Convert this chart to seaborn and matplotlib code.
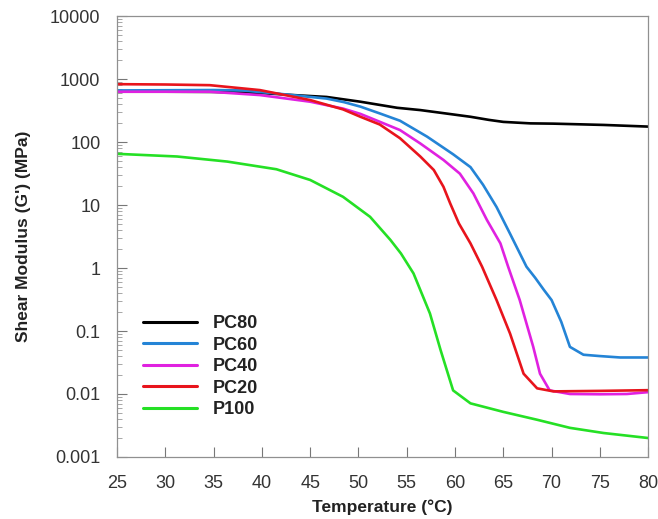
import numpy as np
import pandas as pd
import matplotlib
matplotlib.use("Agg")
import matplotlib.pyplot as plt
import seaborn as sns
from matplotlib.ticker import LogLocator, FixedLocator, FixedFormatter, NullFormatter

# ---- data ----
pc80_T = [25, 30, 35, 40, 43, 46.7, 50.2, 54, 56.4, 59, 61.6, 63.5, 65, 67.8, 70.2, 75.4, 80]
pc80_G = [630, 630, 625, 600, 560, 520, 437, 350, 322, 285, 252, 225, 209, 198, 196, 187, 176]

pc60_T = [25, 30, 35, 38, 41.5, 44, 46.7, 48.5, 50.2, 52.2, 54.3, 57.1, 59.8, 61.6, 62.9, 64.3,
          65.7, 67.4, 68.3, 69.2, 70, 71, 71.9, 73.3, 75, 77.1, 80]
pc60_G = [660, 665, 670, 660, 590, 540, 490, 430, 365, 285, 218, 122, 64, 40, 21, 9.3,
          3.5, 1.05, 0.7, 0.45, 0.31, 0.14, 0.056, 0.042, 0.040, 0.038, 0.038]

pc40_T = [25, 30, 34.6, 39.8, 45, 48.4, 50.2, 52.2, 54.3, 56.4, 58.8, 60.5, 61.9, 63.3, 64.7,
          65.5, 66.7, 68.1, 68.8, 69.8, 71.9, 75, 77.8, 80]
pc40_G = [630, 630, 630, 557, 437, 340, 280, 210, 155, 95, 52, 31.5, 15.3, 5.8, 2.46,
          1.05, 0.31, 0.056, 0.021, 0.0114, 0.010, 0.0099, 0.010, 0.0107]

pc20_T = [25, 30, 34.6, 39.8, 45, 48.4, 50.2, 52.2, 54.3, 56.4, 57.8, 58.8, 59.5, 60.4, 61.6,
          62.8, 64.3, 65.7, 67.1, 68.5, 70.2, 75, 80]
pc20_G = [830, 820, 800, 668, 464, 330, 252, 190, 115, 59, 36, 19.5, 10.6, 5.1, 2.46,
          1.05, 0.31, 0.091, 0.021, 0.0123, 0.011, 0.0112, 0.0115]

p100_T = [25, 31.2, 36.4, 41.5, 45, 48.4, 51.2, 53.3, 54.4, 55.7, 57.4, 58.5, 59.8, 61.6,
          65, 68.5, 71.9, 75.4, 80]
p100_G = [65, 59, 49, 37, 25, 13.5, 6.5, 2.8, 1.7, 0.82, 0.19, 0.05, 0.0114, 0.0071,
          0.0052, 0.0039, 0.0029, 0.0024, 0.0020]

series = ["PC80", "PC60", "PC40", "PC20", "P100"]
colors = ["#000000", "#2484d6", "#e021e0", "#e8141c", "#25e025"]
x_ticks = [25, 30, 35, 40, 45, 50, 55, 60, 65, 70, 75, 80]
y_ticks = [0.001, 0.01, 0.1, 1, 10, 100, 1000, 10000]
y_labels = ["0.001", "0.01", "0.1", "1", "10", "100", "1000", "10000"]

frames = []
for name, T, G in zip(series, [pc80_T, pc60_T, pc40_T, pc20_T, p100_T],
                      [pc80_G, pc60_G, pc40_G, pc20_G, p100_G]):
    frames.append(pd.DataFrame({"T": T, "G": G, "Sample": name}))
df = pd.concat(frames, ignore_index=True)

sns.set_style("white")
plt.rcParams["font.family"] = ["Liberation Sans", "DejaVu Sans"]

fig = plt.figure(figsize=(6.58, 5.19), dpi=100)
ax = fig.add_axes([0.178, 0.1195, 0.807, 0.8495])

sns.lineplot(data=df, x="T", y="G", hue="Sample", hue_order=series,
             palette=colors, linewidth=1.9, ax=ax, sort=False, estimator=None)
ax.set_yscale("log")
ax.set_xlim(25, 80)
ax.set_ylim(0.001, 10000)

ax.xaxis.set_major_locator(FixedLocator(x_ticks))
ax.xaxis.set_major_formatter(FixedFormatter([str(t) for t in x_ticks]))
ax.yaxis.set_major_locator(FixedLocator(y_ticks))
ax.yaxis.set_major_formatter(FixedFormatter(y_labels))
ax.yaxis.set_minor_locator(LogLocator(base=10, subs=np.arange(2, 10), numticks=20))
ax.yaxis.set_minor_formatter(NullFormatter())

ax.tick_params(axis="x", which="major", bottom=True, top=False, direction="in", length=7,
               width=0.8, color="#777777", labelsize=13, labelcolor="#333333", pad=13)
ax.tick_params(axis="y", which="major", left=True, right=False, direction="in", length=7,
               width=0.8, color="#777777", labelsize=13, labelcolor="#333333", pad=12)
ax.tick_params(axis="y", which="minor", left=True, right=False, direction="in", length=3.5,
               width=0.6, color="#999999")

for s in ax.spines.values():
    s.set_color("#909090")
    s.set_linewidth(0.9)

ax.set_xlabel("Temperature (°C)", fontsize=12.5, fontweight="bold", color="#222222", labelpad=5)
ax.set_ylabel("Shear Modulus (G') (MPa)", fontsize=12.5, fontweight="bold", color="#222222", labelpad=14)

leg = ax.legend(loc="lower left", bbox_to_anchor=(0.049, 0.088), frameon=False,
                borderpad=0, borderaxespad=0,
                handlelength=3.0, handletextpad=0.85, labelspacing=0.25,
                prop={"weight": "bold", "size": 13})
for t in leg.get_texts():
    t.set_color("#222222")
for l in leg.get_lines():
    l.set_linewidth(2.2)

fig.savefig("out.png", dpi=100)
